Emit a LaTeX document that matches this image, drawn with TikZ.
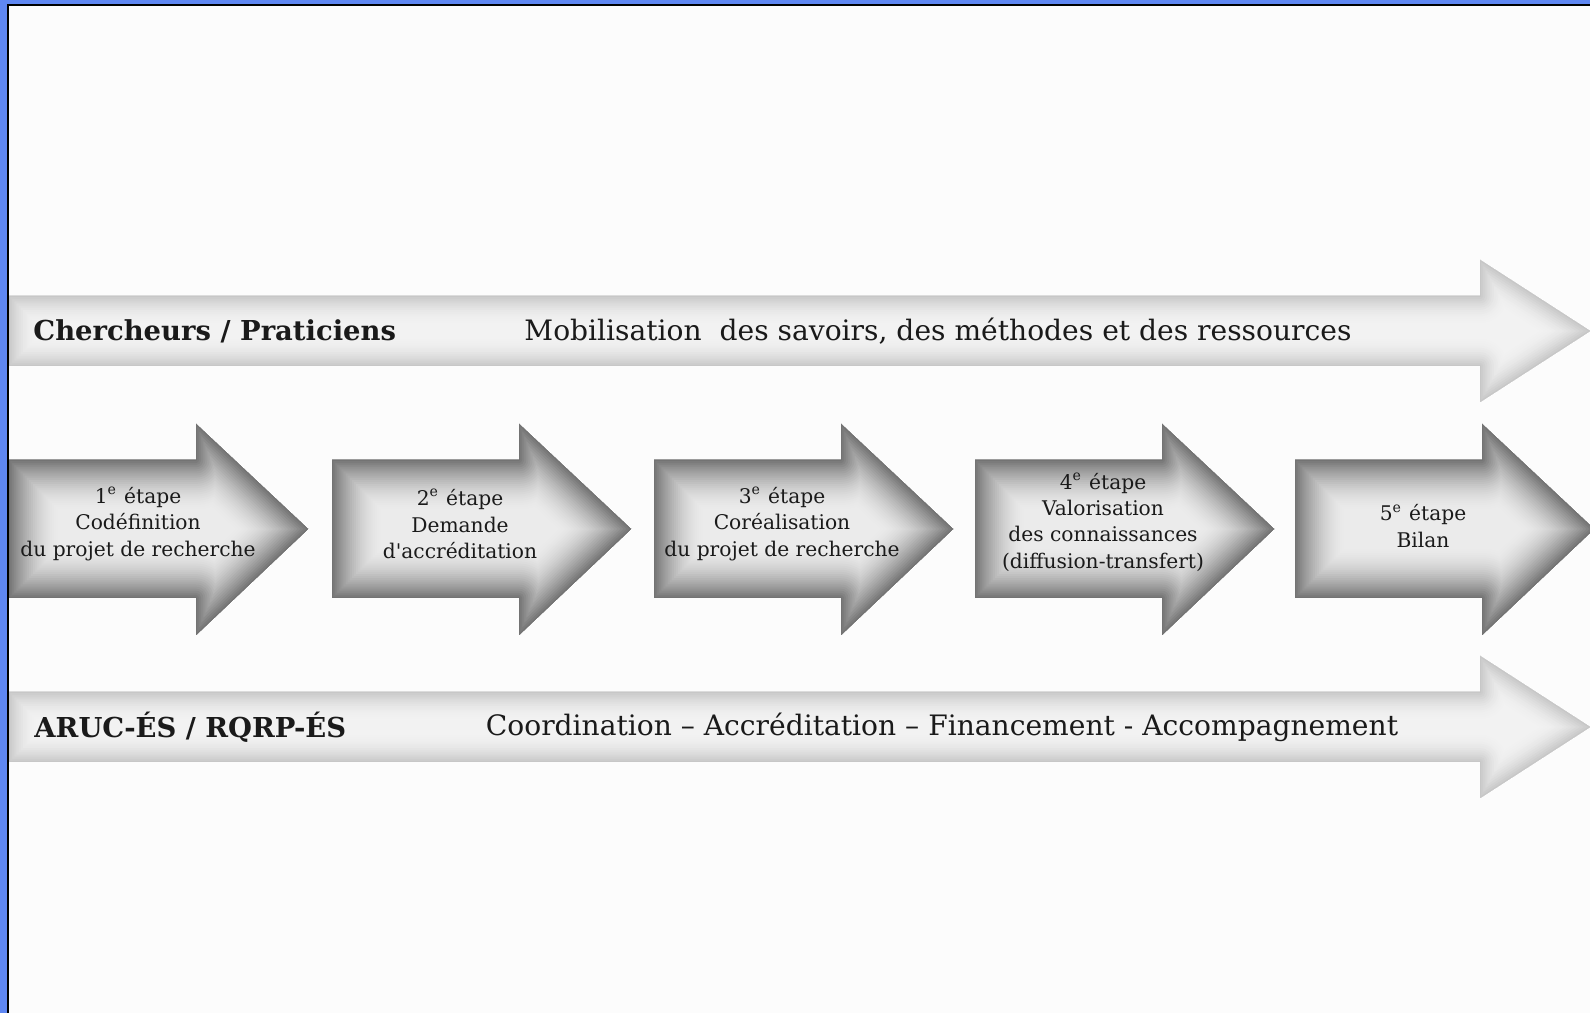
\documentclass[tikz,border=0pt]{standalone}
\usepackage{fontspec}
\setmainfont{DejaVu Serif}[Ligatures=TeXOff]
\definecolor{frameblue}{HTML}{5F87F2}
\definecolor{inkgray}{HTML}{1A1A1A}
\tikzset{
  bandlabel/.style={font=\fontsize{7.8}{9}\selectfont\bfseries, text=inkgray, anchor=west},
  bandtext/.style={font=\fontsize{8}{9.5}\selectfont, text=inkgray},
  steptext/.style={align=center, font=\fontsize{5.75}{7.5}\selectfont, text=inkgray},
}
\begin{document}
\begin{tikzpicture}[x=0.01cm,y=-0.01cm]
\useasboundingbox (0,0) rectangle (1590,1013);
% frame
\fill[frameblue] (0,0) rectangle (1590,1013);
\fill[white!99!black] (8,5) rectangle (1590,1013);
\draw[line width=0.7pt] (8,1013) -- (8,5) -- (1590,5);

% long arrows
\foreach \yc in {331,727} {
  \begin{scope}
    \clip (9,\yc-35) -- (1480,\yc-35) -- (1480,\yc-71) -- (1590,\yc)
      -- (1480,\yc+71) -- (1480,\yc+35) -- (9,\yc+35) -- cycle;
    \fill[black!5] (0,\yc-80) rectangle (1600,\yc+80);
    \foreach \k in {0,...,14} {
      \pgfmathsetmacro\wd{(60*(1-\k/14)+2)*0.2845}
      \pgfmathsetmacro\pc{5+17*(\k/14)^2}
      \draw[black!\pc, line width=\wd pt, line join=round]
        (9,\yc-35) -- (1480,\yc-35) -- (1480,\yc-71) -- (1590,\yc)
        -- (1480,\yc+71) -- (1480,\yc+35) -- (9,\yc+35) -- cycle;
    }
  \end{scope}
}

% step arrows
\foreach \xs in {9,332,654,975,1295} {
  \begin{scope}
    \clip (\xs,460) -- (\xs+187,460) -- (\xs+187,424) -- (\xs+299,529)
      -- (\xs+187,635) -- (\xs+187,598) -- (\xs,598) -- cycle;
    \fill[black!8] (\xs-10,410) rectangle (\xs+310,650);
    \foreach \k in {0,...,24} {
      \pgfmathsetmacro\wd{(100*(1-\k/24)+2)*0.2845}
      \pgfmathsetmacro\pc{8+47*(\k/24)^1.7}
      \draw[black!\pc, line width=\wd pt, line join=round]
        (\xs,460) -- (\xs+187,460) -- (\xs+187,424) -- (\xs+299,529)
        -- (\xs+187,635) -- (\xs+187,598) -- (\xs,598) -- cycle;
    }
  \end{scope}
}

\node[bandlabel] (cherch) at (21,331) {Chercheurs / Praticiens};
\node[bandtext] (mobil) at (938,331) {Mobilisation\ \ des savoirs, des méthodes et des ressources};
\node[bandlabel] (aruc) at (22,727) {ARUC-ÉS / RQRP-ÉS};
\node[bandtext] (coord) at (942,727) {Coordination – Accréditation – Financement - Accompagnement};

\node[steptext] (step1) at (138,524) {1\textsuperscript{e} étape\\Codéfinition\\du projet de recherche};
\node[steptext] (step2) at (460,524) {2\textsuperscript{e} étape\\Demande\\d'accréditation};
\node[steptext] (step3) at (782,524) {3\textsuperscript{e} étape\\Coréalisation\\du projet de recherche};
\node[steptext] (step4) at (1103,522) {4\textsuperscript{e} étape\\Valorisation\\des connaissances\\(diffusion-transfert)};
\node[steptext] (step5) at (1423,526) {5\textsuperscript{e} étape\\Bilan};
\end{tikzpicture}
\end{document}
